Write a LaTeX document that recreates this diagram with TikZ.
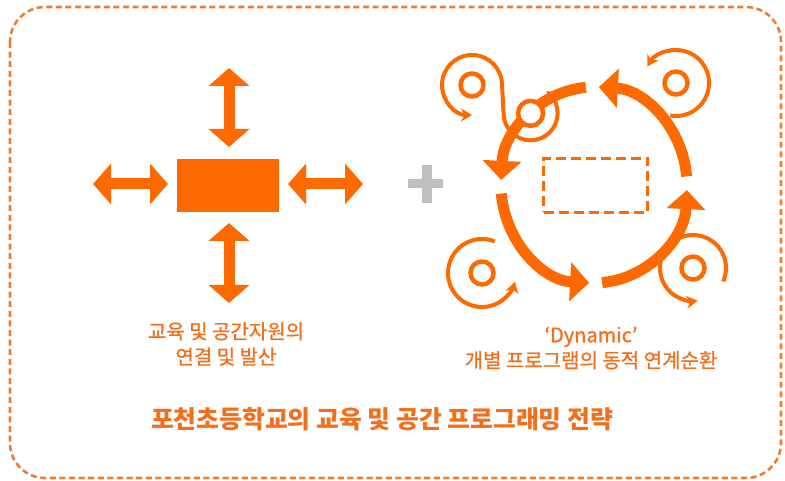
\documentclass[tikz,border=0pt]{standalone}
\usepackage{fontspec}
\setmainfont{Noto Sans CJK KR}
\newfontfamily\capfont{Noto Sans CJK KR}[FakeBold=1]
\usetikzlibrary{arrows.meta, positioning, calc}
\usepackage{xcolor}
\definecolor{mainOrange}{HTML}{FF6A00}
\definecolor{textOrange}{HTML}{F2701C}
\definecolor{frameOrange}{HTML}{EE7D32}
\definecolor{plusGray}{HTML}{BFBFBF}
\tikzset{
    % Frame
    frame/.style={draw=frameOrange, line width=2.6pt, dash pattern=on 6pt off 3.6pt, rounded corners=35pt},
    % Shapes
    hubBox/.style={rectangle, fill=mainOrange, minimum width=102pt, minimum height=53pt, inner sep=0pt},
    coreBox/.style={rectangle, draw=mainOrange, line width=3.5pt, dash pattern=on 10pt off 5pt,
                    minimum width=104pt, minimum height=54pt, inner sep=0pt},
    ring/.style={circle, draw=mainOrange, fill=white, line width=4.5pt, minimum size=23pt, inner sep=0pt},
    % Arrows
    spread/.style={mainOrange, line width=11pt,
                   {Triangle[length=18pt,width=40pt]}-{Triangle[length=18pt,width=40pt]}},
    cycle/.style={mainOrange, line width=11pt, -{Triangle[length=19pt,width=38pt]}},
    swirl/.style={mainOrange, line width=4pt, -{Stealth[length=11pt,width=13pt]}},
    % Labels
    lbl/.style={text=textOrange, align=center, font=\capfont\fontsize{20}{25.5}\selectfont},
    heading/.style={text=textOrange, font=\fontsize{24.8}{28}\selectfont\bfseries}
}

\begin{document}
\begin{tikzpicture}[x=1pt, y=-1pt]
\useasboundingbox (0,0) rectangle (785,481);

\draw[frame] (10,7) rectangle (781,478);

% connection and spreading
\node[hubBox] (hub) at (228,185.5) {};
\coordinate (upA) at (229,68);    \coordinate (upB) at (229,147);
\coordinate (downA) at (229,223); \coordinate (downB) at (229,303);
\coordinate (leftA) at (93,184);  \coordinate (leftB) at (168,184);
\coordinate (rightA) at (288,184); \coordinate (rightB) at (363,184);
\draw[spread] (upA) -- (upB);
\draw[spread] (downA) -- (downB);
\draw[spread] (leftA) -- (leftB);
\draw[spread] (rightA) -- (rightB);

% plus
\fill[plusGray] (408,179.5) rectangle (443,188.5);
\fill[plusGray] (422,165) rectangle (432,203);

% dynamic cycle
\coordinate (loop) at (594,185);
\node[coreBox] (core) at (595.5,185.5) {};
\foreach \a in {0,90,180,270}
    \draw[cycle] (loop) ++(\a+85:93 and 98) arc[start angle=\a+85, end angle=\a+3, x radius=93, y radius=98];

\node[ring] (ringA) at (472,85) {};
\node[ring, minimum size=25pt] (ringB) at ($(loop)+(227:93 and 98)$) {};
\node[ring] (ringC) at (676,83) {};
\node[ring] (ringD) at (482,273) {};
\node[ring] (ringE) at (693,268) {};

\draw[swirl, {Stealth[length=11pt,width=13pt]}-{Stealth[length=11pt,width=13pt]}]
    (ringA) ++(90:30) arc[start angle=90, end angle=360, radius=30]
    -- ($(ringB)+(-27,0)$) arc[start angle=180, end angle=-55, radius=27];
\draw[swirl] (ringC) ++(100:33) arc[start angle=100, end angle=-150, radius=33];
\draw[swirl] (ringD) ++(-68:34) arc[start angle=-68, end angle=-345, radius=34];
\draw[swirl] (ringE) ++(24:33) arc[start angle=24, end angle=-278, radius=33];

% captions
\node[lbl] (leftCap) at (226,344) {교육 및 공간자원의\\연결 및 발산};
\node[lbl] (rightCap) at (591,348) {‘Dynamic’\\개별 프로그램의 동적 연계순환};
\node[heading] (title) at (382,419) {포천초등학교의 교육 및 공간 프로그래밍 전략};

\end{tikzpicture}
\end{document}
